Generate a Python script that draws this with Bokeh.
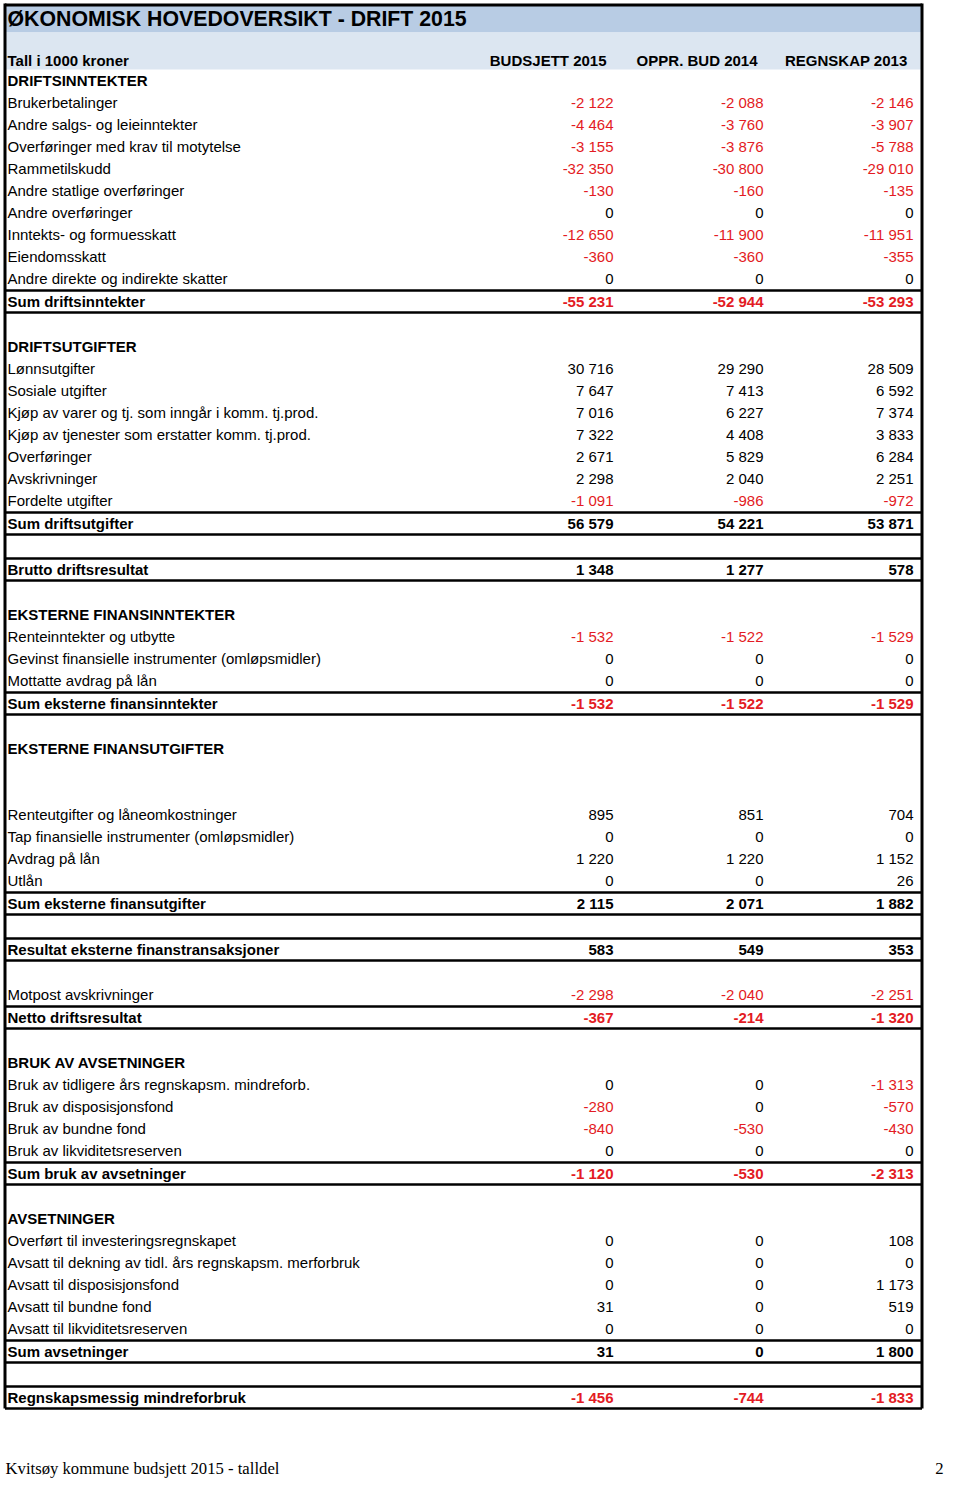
from bokeh.plotting import figure
from bokeh.models import ColumnDataSource, Range1d
from bokeh.embed import file_html
from bokeh.resources import INLINE
from bokeh.core.properties import value

# ---------------- data ----------------
title = "ØKONOMISK HOVEDOVERSIKT - DRIFT 2015"
unit_label = "Tall i 1000 kroner"
column_headers = ["BUDSJETT 2015", "OPPR. BUD 2014", "REGNSKAP 2013"]
footer_left = "Kvitsøy kommune budsjett 2015 - talldel"
footer_right = "2"

inntekt_title = "DRIFTSINNTEKTER"
inntekt_labels = ["Brukerbetalinger", "Andre salgs- og leieinntekter",
                  "Overføringer med krav til motytelse", "Rammetilskudd",
                  "Andre statlige overføringer", "Andre overføringer",
                  "Inntekts- og formuesskatt", "Eiendomsskatt",
                  "Andre direkte og indirekte skatter"]
inntekt_b2015 = [-2122, -4464, -3155, -32350, -130, 0, -12650, -360, 0]
inntekt_b2014 = [-2088, -3760, -3876, -30800, -160, 0, -11900, -360, 0]
inntekt_r2013 = [-2146, -3907, -5788, -29010, -135, 0, -11951, -355, 0]
inntekt_sum_label = "Sum driftsinntekter"
inntekt_sum = [-55231, -52944, -53293]

utgift_title = "DRIFTSUTGIFTER"
utgift_labels = ["Lønnsutgifter", "Sosiale utgifter",
                 "Kjøp av varer og tj. som inngår i komm. tj.prod.",
                 "Kjøp av tjenester som erstatter komm. tj.prod.",
                 "Overføringer", "Avskrivninger", "Fordelte utgifter"]
utgift_b2015 = [30716, 7647, 7016, 7322, 2671, 2298, -1091]
utgift_b2014 = [29290, 7413, 6227, 4408, 5829, 2040, -986]
utgift_r2013 = [28509, 6592, 7374, 3833, 6284, 2251, -972]
utgift_sum_label = "Sum driftsutgifter"
utgift_sum = [56579, 54221, 53871]

brutto_label = "Brutto driftsresultat"
brutto = [1348, 1277, 578]

fininn_title = "EKSTERNE FINANSINNTEKTER"
fininn_labels = ["Renteinntekter og utbytte",
                 "Gevinst finansielle instrumenter (omløpsmidler)",
                 "Mottatte avdrag på lån"]
fininn_b2015 = [-1532, 0, 0]
fininn_b2014 = [-1522, 0, 0]
fininn_r2013 = [-1529, 0, 0]
fininn_sum_label = "Sum eksterne finansinntekter"
fininn_sum = [-1532, -1522, -1529]

finut_title = "EKSTERNE FINANSUTGIFTER"
finut_labels = ["Renteutgifter og låneomkostninger",
                "Tap finansielle instrumenter (omløpsmidler)",
                "Avdrag på lån", "Utlån"]
finut_b2015 = [895, 0, 1220, 0]
finut_b2014 = [851, 0, 1220, 0]
finut_r2013 = [704, 0, 1152, 26]
finut_sum_label = "Sum eksterne finansutgifter"
finut_sum = [2115, 2071, 1882]

resultat_label = "Resultat eksterne finanstransaksjoner"
resultat = [583, 549, 353]

motpost_labels = ["Motpost avskrivninger"]
motpost_b2015 = [-2298]
motpost_b2014 = [-2040]
motpost_r2013 = [-2251]

netto_label = "Netto driftsresultat"
netto = [-367, -214, -1320]

bruk_title = "BRUK AV AVSETNINGER"
bruk_labels = ["Bruk av tidligere års regnskapsm. mindreforb.",
               "Bruk av disposisjonsfond", "Bruk av bundne fond",
               "Bruk av likviditetsreserven"]
bruk_b2015 = [0, -280, -840, 0]
bruk_b2014 = [0, 0, -530, 0]
bruk_r2013 = [-1313, -570, -430, 0]
bruk_sum_label = "Sum bruk av avsetninger"
bruk_sum = [-1120, -530, -2313]

avs_title = "AVSETNINGER"
avs_labels = ["Overført til investeringsregnskapet",
              "Avsatt til dekning av tidl. års regnskapsm. merforbruk",
              "Avsatt til disposisjonsfond", "Avsatt til bundne fond",
              "Avsatt til likviditetsreserven"]
avs_b2015 = [0, 0, 0, 31, 0]
avs_b2014 = [0, 0, 0, 0, 0]
avs_r2013 = [108, 0, 1173, 519, 0]
avs_sum_label = "Sum avsetninger"
avs_sum = [31, 0, 1800]

mindre_label = "Regnskapsmessig mindreforbruk"
mindre = [-1456, -744, -1833]

# ---------------- row structure ----------------
rows = []  # (kind, label, values)


def add_section(name):
    rows.append(("section", name, None))


def add_items(labels, a, b, c):
    for i, lab in enumerate(labels):
        rows.append(("item", lab, [a[i], b[i], c[i]]))


def add_sum(label, vals):
    rows.append(("sum", label, vals))


def add_blank():
    rows.append(("blank", "", None))


add_section(inntekt_title)
add_items(inntekt_labels, inntekt_b2015, inntekt_b2014, inntekt_r2013)
add_sum(inntekt_sum_label, inntekt_sum)
add_blank()
add_section(utgift_title)
add_items(utgift_labels, utgift_b2015, utgift_b2014, utgift_r2013)
add_sum(utgift_sum_label, utgift_sum)
add_blank()
add_sum(brutto_label, brutto)
add_blank()
add_section(fininn_title)
add_items(fininn_labels, fininn_b2015, fininn_b2014, fininn_r2013)
add_sum(fininn_sum_label, fininn_sum)
add_blank()
add_section(finut_title)
add_blank()
add_blank()
add_items(finut_labels, finut_b2015, finut_b2014, finut_r2013)
add_sum(finut_sum_label, finut_sum)
add_blank()
add_sum(resultat_label, resultat)
add_blank()
add_items(motpost_labels, motpost_b2015, motpost_b2014, motpost_r2013)
add_sum(netto_label, netto)
add_blank()
add_section(bruk_title)
add_items(bruk_labels, bruk_b2015, bruk_b2014, bruk_r2013)
add_sum(bruk_sum_label, bruk_sum)
add_blank()
add_section(avs_title)
add_items(avs_labels, avs_b2015, avs_b2014, avs_r2013)
add_sum(avs_sum_label, avs_sum)
add_blank()
add_sum(mindre_label, mindre)

# ---------------- layout constants ----------------
FONT = "Liberation Sans"
RED = "#e31b23"
BAND1 = "#b8cce4"
BAND2 = "#dce6f1"
TABLE_LEFT = 4.5
TABLE_RIGHT = 921.5
LABEL_X = 7
VALUE_X = [613, 763, 913]
HEAD_X = [606, 757, 907]
ROW_H = 22
SUM_H = 24
FIRST_TOP = 69


def fmt(v):
    s = f"{abs(v):,}".replace(",", " ")
    return ("-" + s) if v < 0 else s


lab_x, lab_y, lab_t, lab_style = [], [], [], []
val_cols = [dict(x=[], y=[], t=[], c=[], s=[]) for _ in range(3)]
hx0, hx1, hy = [], [], []

top = FIRST_TOP
for kind, label, vals in rows:
    h = SUM_H if kind == "sum" else ROW_H
    cy = top + h / 2
    if label:
        lab_x.append(LABEL_X)
        lab_y.append(cy)
        lab_t.append(label)
        lab_style.append("normal" if kind == "item" else "bold")
    if vals is not None:
        for j in range(3):
            vc = val_cols[j]
            vc["x"].append(VALUE_X[j])
            vc["y"].append(cy)
            vc["t"].append(fmt(vals[j]))
            vc["c"].append(RED if vals[j] < 0 else "black")
            vc["s"].append("bold" if kind == "sum" else "normal")
    if kind == "sum":
        for yy in (top + 1, top + h - 1):
            hx0.append(TABLE_LEFT)
            hx1.append(TABLE_RIGHT)
            hy.append(yy)
    top += h
table_bottom = top - 1

# ---------------- figure ----------------
W, H = 944, 1482
p = figure(width=W, height=H, x_range=Range1d(0, W), y_range=Range1d(H, 0),
           output_backend="svg", toolbar_location=None, min_border=0)
p.axis.visible = False
p.grid.visible = False
p.outline_line_color = None
p.background_fill_color = "white"
p.border_fill_color = "white"

# header bands
p.quad(left=[TABLE_LEFT], right=[TABLE_RIGHT], top=[5], bottom=[32],
       fill_color=BAND1, line_color=None)
p.quad(left=[TABLE_LEFT], right=[TABLE_RIGHT], top=[32], bottom=[FIRST_TOP],
       fill_color=BAND2, line_color=None)

# title and column headers
p.text(x=[LABEL_X], y=[18], text=[title], text_font=value(FONT),
       text_font_size="21.3px", text_font_style="bold", text_baseline="middle",
       text_align="left", text_color="black")
p.text(x=[LABEL_X], y=[60], text=[unit_label], text_font=value(FONT),
       text_font_size="15px", text_font_style="bold", text_baseline="middle",
       text_align="left", text_color="black")
p.text(x=HEAD_X, y=[60] * 3, text=column_headers, text_font=value(FONT),
       text_font_size="15px", text_font_style="bold", text_baseline="middle",
       text_align="right", text_color="black")

# row labels
lab_src = ColumnDataSource(dict(x=lab_x, y=lab_y, t=lab_t, s=lab_style))
p.text(x="x", y="y", text="t", source=lab_src, text_font=value(FONT),
       text_font_size="15px", text_font_style="s", text_baseline="middle",
       text_align="left", text_color="black")

# values
for vc in val_cols:
    src = ColumnDataSource(vc)
    p.text(x="x", y="y", text="t", source=src, text_font=value(FONT),
           text_font_size="15px", text_font_style="s", text_color="c",
           text_baseline="middle", text_align="right")

# sum row lines
p.segment(x0=hx0, x1=hx1, y0=hy, y1=hy, line_color="black", line_width=2.5)

# outer border
p.segment(x0=[TABLE_LEFT, TABLE_RIGHT, TABLE_LEFT],
          x1=[TABLE_LEFT, TABLE_RIGHT, TABLE_RIGHT],
          y0=[3, 3, 4.5], y1=[table_bottom, table_bottom, 4.5],
          line_color="black", line_width=3)

# footer
p.text(x=[5], y=[1468], text=[footer_left], text_font=value("Liberation Serif"),
       text_font_size="16.7px", text_baseline="middle", text_align="left",
       text_color="black")
p.text(x=[W - 1], y=[1468], text=[footer_right],
       text_font=value("Liberation Serif"), text_font_size="16.7px",
       text_baseline="middle", text_align="right", text_color="black")

open("out.html", "w").write(file_html(p, INLINE))
